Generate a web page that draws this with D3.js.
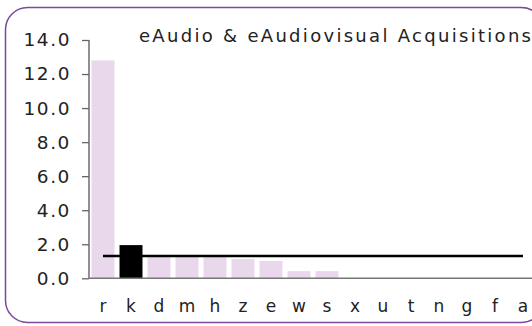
<!DOCTYPE html>
<html><head><meta charset="utf-8">
<script src="https://cdn.jsdelivr.net/npm/d3@7"></script>
<style>body{margin:0;background:#fff}svg{display:block}</style>
</head><body>
<svg id="c" width="532" height="326"></svg>
<script>
const categories = ["r","k","d","m","h","z","e","w","s","x","u","t","n","g","f","a"];
const values = [12.8,1.95,1.28,1.28,1.28,1.13,1.02,0.42,0.42,0,0,0,0,0,0,0];
const highlight = "k";
const averageValue = 1.31;
const yTicks = [0,2,4,6,8,10,12,14];
const title = "eAudio & eAudiovisual Acquisitions";

const svg = d3.select("#c");
svg.append("rect").attr("x",5.5).attr("y",7.5).attr("width",538).attr("height",315)
  .attr("rx",22).attr("fill","#fff").attr("stroke","#7a4a9e").attr("stroke-width",1.5);

const x = d3.scaleBand().domain(categories).range([89,537]).paddingInner(0.18).paddingOuter(0.09);
const y = d3.scaleLinear().domain([0,14]).range([278.3,40]);

svg.selectAll(".bar").data(categories).enter().append("rect")
  .attr("x",d=>x(d)).attr("width",x.bandwidth())
  .attr("y",(d,i)=>y(values[i])).attr("height",(d,i)=>y(0)-y(values[i]))
  .attr("fill",d=>d===highlight?"#000":"#e9d8eb");

// average line
svg.append("line")
  .attr("x1",x(categories[0])+x.bandwidth()/2)
  .attr("x2",x(categories[categories.length-1])+x.bandwidth()/2)
  .attr("y1",y(averageValue)).attr("y2",y(averageValue))
  .attr("stroke","#000").attr("stroke-width",2.5);

// y axis
const ya = svg.append("g").attr("transform","translate(89,0)")
  .call(d3.axisLeft(y).tickValues(yTicks).tickFormat(d3.format(".1f")).tickSize(7).tickPadding(11));
ya.select(".domain").attr("stroke","#555").attr("stroke-width",1.3).attr("d","M0,40V278.3");
ya.selectAll(".tick line").attr("stroke","#666").attr("stroke-width",1.3);
ya.selectAll(".tick text").attr("font-family","DejaVu Sans").attr("font-size",18.5)
  .attr("fill","#222").style("letter-spacing","1.6px");

// x axis
const xa = svg.append("g").attr("transform","translate(0,278.3)")
  .call(d3.axisBottom(x).tickSize(0).tickPadding(22));
xa.select(".domain").attr("stroke","#777").attr("stroke-width",1.5).attr("d","M89,0H532");
xa.selectAll(".tick text").attr("font-family","DejaVu Sans").attr("font-size",17).attr("fill","#222");

svg.append("text").attr("x",139).attr("y",42).attr("font-family","DejaVu Sans")
  .attr("font-size",18).attr("fill","#222").attr("textLength",392).attr("lengthAdjust","spacing")
  .text(title);
</script>
</body></html>
